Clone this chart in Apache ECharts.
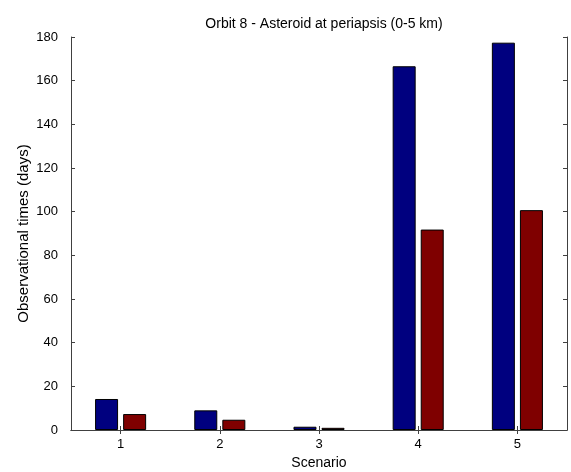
<!DOCTYPE html>
<html>
<head>
<meta charset="utf-8">
<script src="https://cdn.jsdelivr.net/npm/echarts@6/dist/echarts.min.js"></script>
<style>
  html, body { margin: 0; padding: 0; background: #fff; }
  #chart { width: 571px; height: 472px; }
</style>
</head>
<body>
<div id="chart"></div>
<script>
// Observation time per scenario, two cases per scenario
const scenarios = ['1', '2', '3', '4', '5'];
const seriesBlue = [14.2, 9.0, 1.5, 166.6, 177.4];
const seriesRed = [7.3, 4.7, 1.0, 91.8, 100.7];
const yTicks = { min: 0, max: 180, interval: 20 };

const axisColor = '#404040';
const font = 'Liberation Sans, Arial, sans-serif';

const chart = echarts.init(document.getElementById('chart'), null, { renderer: 'canvas' });

const frameAxis = {
  axisLine: { show: true, lineStyle: { color: axisColor, width: 1 } },
  axisTick: { show: true, inside: true, length: 4, lineStyle: { color: axisColor } },
  splitLine: { show: false }
};

chart.setOption({
  animation: false,
  backgroundColor: '#ffffff',
  title: {
    text: 'Orbit 8 - Asteroid at periapsis (0-5 km)',
    left: 319, top: 12, textAlign: 'center',
    textStyle: { fontFamily: font, fontSize: 14, fontWeight: 'normal', color: '#000' }
  },
  grid: {
    left: 71, right: 4, top: 37, bottom: 42,
    containLabel: false, outerBoundsMode: 'none'
  },
  xAxis: [
    Object.assign({}, frameAxis, {
      type: 'category', data: scenarios, position: 'bottom',
      axisTick: Object.assign({}, frameAxis.axisTick, { alignWithLabel: true }),
      axisLabel: { fontFamily: font, fontSize: 13, color: '#000', margin: 8 },
      name: 'Scenario', nameLocation: 'middle', nameGap: 26, nameMoveOverlap: false,
      nameTextStyle: { fontFamily: font, fontSize: 14, color: '#000' }
    }),
    Object.assign({}, frameAxis, {
      type: 'category', data: scenarios, position: 'top',
      axisTick: Object.assign({}, frameAxis.axisTick, { alignWithLabel: true }),
      axisLabel: { show: false }
    })
  ],
  yAxis: [
    Object.assign({}, frameAxis, {
      type: 'value', position: 'left',
      min: yTicks.min, max: yTicks.max, interval: yTicks.interval,
      axisLabel: { fontFamily: font, fontSize: 13, color: '#000', margin: 13 },
      name: 'Observational times (days)', nameLocation: 'middle', nameGap: 40, nameMoveOverlap: false,
      nameTextStyle: { fontFamily: font, fontSize: 15, color: '#000' }
    }),
    Object.assign({}, frameAxis, {
      type: 'value', position: 'right',
      min: yTicks.min, max: yTicks.max, interval: yTicks.interval,
      axisLabel: { show: false }
    })
  ],
  series: [
    {
      type: 'bar', data: seriesBlue, xAxisIndex: 0, yAxisIndex: 0,
      barWidth: 23, barGap: '22%',
      itemStyle: { color: '#00007f', borderColor: '#000', borderWidth: 1 }
    },
    {
      type: 'bar', data: seriesRed, xAxisIndex: 0, yAxisIndex: 0,
      barWidth: 23, barGap: '22%',
      itemStyle: { color: '#7f0000', borderColor: '#000', borderWidth: 1 }
    }
  ]
});
</script>
</body>
</html>
